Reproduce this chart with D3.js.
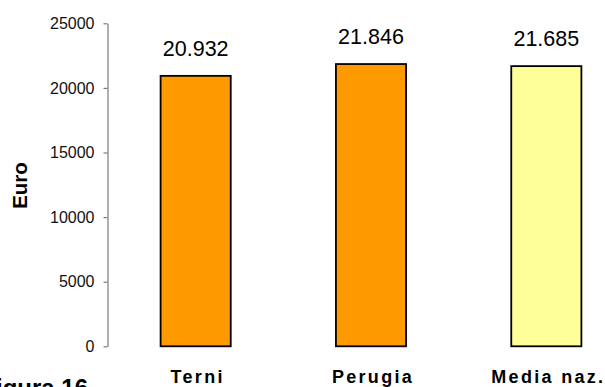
<!DOCTYPE html>
<html>
<head>
<meta charset="utf-8">
<script src="https://cdn.jsdelivr.net/npm/d3@7"></script>
<style>
  html, body { margin: 0; padding: 0; background: #fff; }
  svg { display: block; font-family: "Liberation Sans", Arial, sans-serif; }
</style>
</head>
<body>
<svg id="chart" width="605" height="387"></svg>
<script>
// Reddito pro capite (Euro)
const categories = ["Terni", "Perugia", "Media naz."];
const values = [20932, 21846, 21685];
const barColors = ["#FF9900", "#FF9900", "#FFFF99"];
const yTicks = [0, 5000, 10000, 15000, 20000, 25000];
const yLabel = "Euro";
const figureLabel = "Figura 16";

const svg = d3.select("#chart");
const width = 605, height = 387;
const margin = { left: 108, right: -29, top: 23.3, bottom: 40.7 };

const x = d3.scaleBand()
  .domain(categories)
  .range([margin.left, width - margin.right])
  .paddingInner(0.6)
  .paddingOuter(0.3);

const y = d3.scaleLinear()
  .domain([0, 25000])
  .range([height - margin.bottom, margin.top]);

const it = d3.formatLocale({ decimal: ",", thousands: ".", grouping: [3], currency: ["€", ""] });
const fmt = it.format(",d");

// Y axis
const yAxis = svg.append("g")
  .attr("transform", `translate(${margin.left - 0.5},0)`)
  .call(d3.axisLeft(y).tickValues(yTicks).tickSize(4).tickSizeOuter(0).tickPadding(9).tickFormat(d3.format("d")));
yAxis.select(".domain").attr("stroke", "#7a7a7a").attr("stroke-width", 1.2);
yAxis.selectAll(".tick line").attr("stroke", "#7a7a7a").attr("stroke-width", 1.2);
yAxis.selectAll(".tick text")
  .attr("fill", "#111")
  .style("font-size", "16px")
  .style("font-family", "'Liberation Sans', Arial, sans-serif");

// Bars
svg.append("g").selectAll("rect")
  .data(values)
  .join("rect")
  .attr("x", (d, i) => x(categories[i]))
  .attr("y", d => y(d))
  .attr("width", x.bandwidth())
  .attr("height", d => y(0) - y(d))
  .attr("fill", (d, i) => barColors[i])
  .attr("stroke", "#000")
  .attr("stroke-width", 1.8);

// Value labels
svg.append("g").selectAll("text")
  .data(values)
  .join("text")
  .attr("x", (d, i) => x(categories[i]) + x.bandwidth() / 2)
  .attr("y", d => y(d) - 20)
  .attr("text-anchor", "middle")
  .attr("fill", "#000")
  .style("font-size", "21.5px")
  .text(d => fmt(d));

// Category labels
svg.append("g").selectAll("text")
  .data(categories)
  .join("text")
  .attr("x", d => x(d) + x.bandwidth() / 2 + 2)
  .attr("y", 383)
  .attr("text-anchor", "middle")
  .attr("fill", "#000")
  .style("font-size", "18px")
  .style("font-weight", "bold")
  .style("letter-spacing", "2.3px")
  .text(d => d);

// Y axis title
svg.append("text")
  .attr("transform", "translate(27,185.5) rotate(-90)")
  .attr("text-anchor", "middle")
  .attr("fill", "#000")
  .style("font-size", "20.5px")
  .style("font-weight", "bold")
  .text(yLabel);

// Figure caption
svg.append("text")
  .attr("x", 88)
  .attr("y", 395.5)
  .attr("text-anchor", "end")
  .attr("fill", "#000")
  .style("font-size", "24px")
  .style("font-weight", "bold")
  .text(figureLabel);
</script>
</body>
</html>
